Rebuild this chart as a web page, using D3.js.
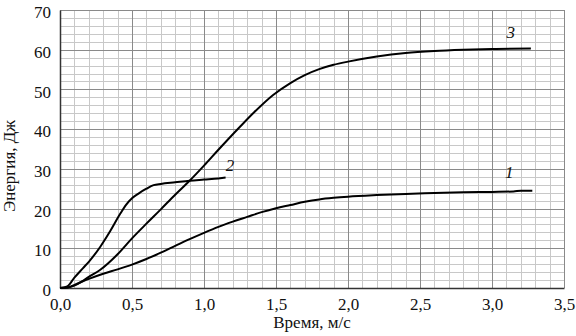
<!DOCTYPE html>
<html><head><meta charset="utf-8">
<script src="https://cdn.jsdelivr.net/npm/d3@7"></script>
<style>
html,body{margin:0;padding:0;background:#fff;}
svg{display:block;}
</style></head>
<body><svg id="c" width="576" height="336"></svg>
<script>
// Data
const xTicks = [0, 0.5, 1.0, 1.5, 2.0, 2.5, 3.0, 3.5];
const yTicks = [0, 10, 20, 30, 40, 50, 60, 70];
const xTitle = "Время, м/с";
const yTitle = "Энергия, Дж";

const curve1 = [[0,0],[0.05,0.1],[0.1,0.8],[0.2,2.3],[0.3,3.6],[0.4,4.7],[0.5,5.9],[0.6,7.3],[0.7,8.9],[0.8,10.6],[0.9,12.3],[1.0,13.9],[1.1,15.4],[1.2,16.7],[1.3,17.9],[1.4,19.1],[1.5,20.1],[1.6,20.9],[1.7,21.7],[1.8,22.3],[1.9,22.7],[2.0,23.0],[2.2,23.4],[2.4,23.7],[2.6,23.9],[2.8,24.1],[3.0,24.2],[3.15,24.3],[3.2,24.5],[3.28,24.5]];
const curve2 = [[0,0],[0.05,0.4],[0.1,2.6],[0.16,5.0],[0.2,6.6],[0.28,10.4],[0.35,14.4],[0.42,18.8],[0.46,21.0],[0.5,22.6],[0.55,23.9],[0.6,25.0],[0.65,25.9],[0.7,26.2],[0.8,26.6],[0.9,27.0],[1.0,27.3],[1.1,27.6],[1.15,27.8]];
const curve3 = [[0,0],[0.05,0.1],[0.1,0.6],[0.15,1.6],[0.2,2.8],[0.28,4.6],[0.4,8.5],[0.5,12.5],[0.6,16.2],[0.7,19.8],[0.8,23.5],[0.9,27.0],[1.0,30.8],[1.1,34.8],[1.25,40.6],[1.35,44.3],[1.48,48.6],[1.6,51.6],[1.7,53.6],[1.8,55.1],[1.9,56.2],[2.0,57.0],[2.2,58.3],[2.4,59.2],[2.6,59.7],[2.8,60.0],[3.0,60.2],[3.27,60.3]];
const seriesLabels = ["1", "2", "3"];

const FONT = '"Liberation Serif"';
const svg = d3.select("#c");
const L = 60, R = 564, T = 10, B = 288;
const x = d3.scaleLinear().domain([0, 3.5]).range([L, R]);
const y = d3.scaleLinear().domain([0, 70]).range([B, T]);

// grid
const g = svg.append("g");
const minorX = d3.range(0, 36).map(i => i / 10);
const minorY = d3.range(0, 36).map(i => i * 2);
g.selectAll(".mx").data(minorX).enter().append("line")
  .attr("x1", d => Math.round(x(d)) + 0.5).attr("x2", d => Math.round(x(d)) + 0.5)
  .attr("y1", T).attr("y2", B).attr("stroke", "#c8c8c8").attr("stroke-width", 1);
g.selectAll(".my").data(minorY).enter().append("line")
  .attr("y1", d => Math.round(y(d)) + 0.5).attr("y2", d => Math.round(y(d)) + 0.5)
  .attr("x1", L).attr("x2", R).attr("stroke", "#c8c8c8").attr("stroke-width", 1);
g.selectAll(".Mx").data(xTicks).enter().append("line")
  .attr("x1", d => Math.round(x(d)) + 0.5).attr("x2", d => Math.round(x(d)) + 0.5)
  .attr("y1", T).attr("y2", B).attr("stroke", "#8a8a8a").attr("stroke-width", 1);
g.selectAll(".My").data(yTicks).enter().append("line")
  .attr("y1", d => Math.round(y(d)) + 0.5).attr("y2", d => Math.round(y(d)) + 0.5)
  .attr("x1", L).attr("x2", R).attr("stroke", "#8a8a8a").attr("stroke-width", 1);

// axes
const xAxis = d3.axisBottom(x).tickValues(xTicks).tickSize(0).tickPadding(10)
  .tickFormat(d => d3.format(".1f")(d).replace(".", ","));
const ax = svg.append("g").attr("transform", `translate(0,${B})`).call(xAxis);
ax.select(".domain").attr("stroke", "#333").attr("stroke-width", 1.5);
ax.selectAll("text").style("font-family", FONT).style("font-size", "17px").attr("fill", "#111");

const yAxis = d3.axisLeft(y).tickValues(yTicks).tickSize(0).tickPadding(9);
const ay = svg.append("g").attr("transform", `translate(${L},0)`).call(yAxis);
ay.select(".domain").attr("stroke", "#333").attr("stroke-width", 1.5);
ay.selectAll("text").style("font-family", FONT).style("font-size", "17px").attr("fill", "#111").attr("dy", "0.45em");

svg.append("text").attr("x", 312).attr("y", 328).attr("text-anchor", "middle")
  .style("font-family", FONT).style("font-size", "17px").attr("fill", "#111").text(xTitle);
svg.append("text").attr("transform", "translate(15,166) rotate(-90)").attr("text-anchor", "middle")
  .style("font-family", FONT).style("font-size", "17px").attr("fill", "#111").text(yTitle);

// curves
const line = d3.line().x(d => x(d[0])).y(d => y(d[1])).curve(d3.curveMonotoneX);
[curve1, curve2, curve3].forEach(c => {
  svg.append("path").attr("d", line(c)).attr("fill", "none")
    .attr("stroke", "#000").attr("stroke-width", 2).attr("stroke-linejoin", "round");
});

// curve labels
const labelPos = [[3.12, 27.8], [1.18, 29.5], [3.13, 63.0]];
labelPos.forEach((p, i) => {
  svg.append("text").attr("x", x(p[0])).attr("y", y(p[1])).attr("text-anchor", "middle")
    .style("font-family", FONT).style("font-size", "17px").style("font-style", "italic")
    .attr("fill", "#111").text(seriesLabels[i]);
});
</script></body></html>
